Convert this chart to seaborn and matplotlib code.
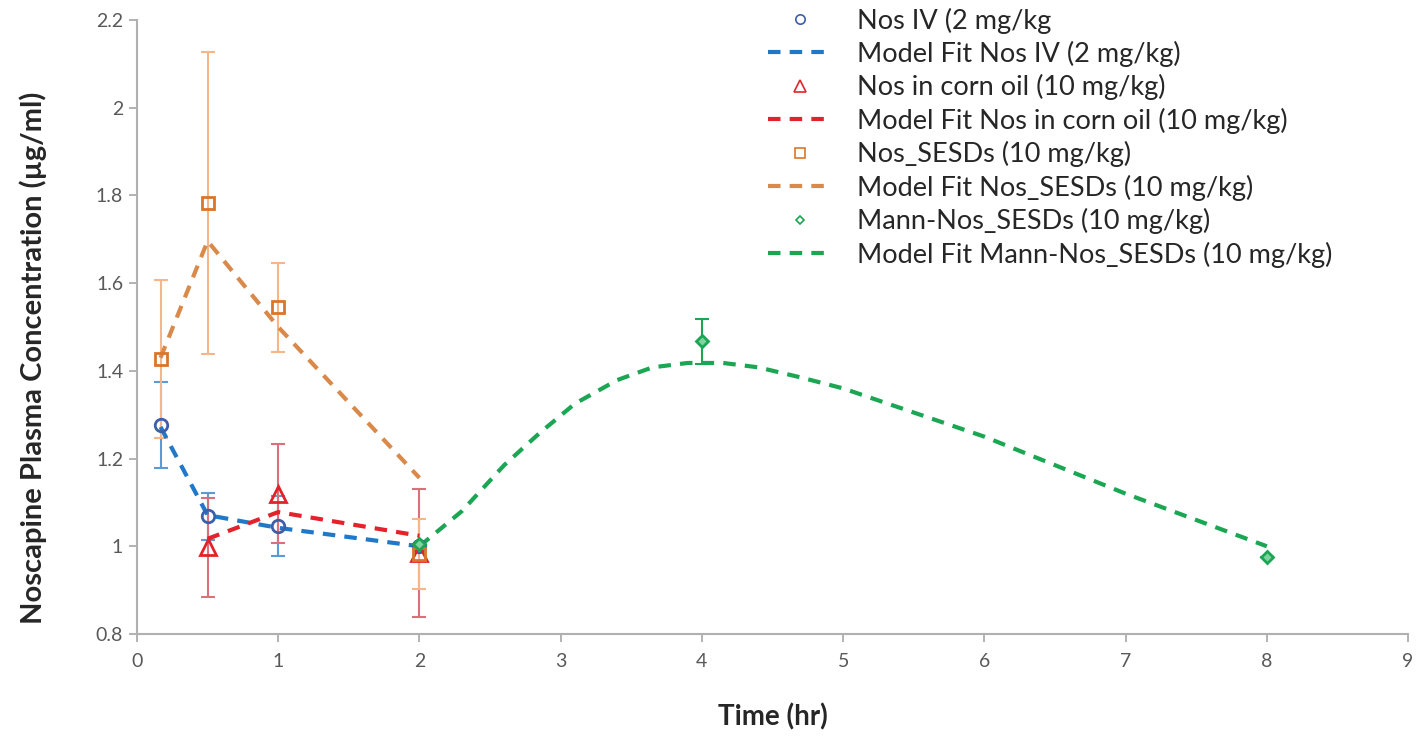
import seaborn as sns
import matplotlib
matplotlib.use('Agg')
import matplotlib.pyplot as plt
import numpy as np
import pandas as pd

sns.set_style('white')
plt.rcParams['font.family'] = ['Lato', 'DejaVu Sans']

# observed data (mean, SD)
t_iv = [0.167, 0.5, 1, 2]
c_iv = [1.277, 1.068, 1.046, 1.0]
sd_iv = [0.098, 0.053, 0.068, 0.0]

t_oil = [0.5, 1, 2]
c_oil = [0.998, 1.12, 0.985]
sd_oil = [0.113, 0.113, 0.146]

t_sesd = [0.167, 0.5, 1, 2]
c_sesd = [1.427, 1.783, 1.545, 0.982]
sd_sesd = [0.181, 0.345, 0.101, 0.08]

t_mann = [2, 4, 8]
c_mann = [1.005, 1.467, 0.976]
sd_mann = [0.0, 0.052, 0.0]

# model fits
fit_iv_t = [0.167, 0.5, 1, 2]
fit_iv_c = [1.272, 1.071, 1.042, 1.0]
fit_oil_t = [0.5, 1, 2]
fit_oil_c = [1.017, 1.078, 1.024]
fit_sesd_t = [0.167, 0.5, 1, 2]
fit_sesd_c = [1.43, 1.696, 1.5, 1.156]
fit_mann_t = [2, 2.3, 2.6, 2.85, 3.1, 3.4, 3.65, 3.9, 4.15, 4.4, 4.7, 5, 6, 7, 8]
fit_mann_c = [1.0, 1.08, 1.185, 1.258, 1.325, 1.379, 1.408, 1.418, 1.418,
              1.408, 1.385, 1.36, 1.25, 1.12, 1.0]

labels = ['Nos IV (2 mg/kg', 'Model Fit Nos IV (2 mg/kg)',
          'Nos in corn oil (10 mg/kg)', 'Model Fit Nos in corn oil (10 mg/kg)',
          'Nos_SESDs (10 mg/kg)', 'Model Fit Nos_SESDs (10 mg/kg)',
          'Mann-Nos_SESDs (10 mg/kg)', 'Model Fit Mann-Nos_SESDs (10 mg/kg)']

fig = plt.figure(figsize=(14.24, 7.36), dpi=100)
ax = fig.add_axes([0.0962, 0.1386, 0.8926, 0.8342])

series = [
    (t_iv, c_iv, sd_iv, fit_iv_t, fit_iv_c, 'o', '#3d5fa8', '#1f78c8', '#5b9bd5', 9),
    (t_oil, c_oil, sd_oil, fit_oil_t, fit_oil_c, '^', '#e3232c', '#e3232c', '#d9707a', 11),
    (t_sesd, c_sesd, sd_sesd, fit_sesd_t, fit_sesd_c, 's', '#d9762b', '#d98a4a', '#f5b68a', 9),
    (t_mann, c_mann, sd_mann, fit_mann_t, fit_mann_c, 'D', '#1aa653', '#1aa653', '#1aa653', 6),
]

dash = (0, (3, 2.2))
handles = []
for t, c, sd, ft, fc, mk, mcol, lcol, ecol, ms in series:
    ax.errorbar(t, c, yerr=sd, fmt='none', ecolor=ecol, elinewidth=1.5,
                capsize=5, capthick=1.5, zorder=2)
    df_fit = pd.DataFrame({'t': ft, 'c': fc})
    sns.lineplot(data=df_fit, x='t', y='c', ax=ax, color=lcol, linewidth=3,
                 linestyle=dash, zorder=3, legend=False)
    mfc = '#7fd39f' if mk == 'D' else 'none'
    ax.plot(t, c, linestyle='none', marker=mk, markersize=ms,
            markerfacecolor=mfc, markeredgecolor=mcol, markeredgewidth=2,
            zorder=4)
    lh_m = plt.Line2D([], [], linestyle='none', marker=mk, markersize=ms * 0.75,
                      markerfacecolor='none', markeredgecolor=mcol, markeredgewidth=1.2)
    lh_l = plt.Line2D([], [], color=lcol, linewidth=3, linestyle=dash)
    handles += [lh_m, lh_l]

ax.set_xlim(0, 9)
ax.set_ylim(0.8, 2.2)
ax.set_xticks(range(0, 10))
ax.set_yticks(np.arange(0.8, 2.21, 0.2))
ax.set_yticklabels(['0.8', '1', '1.2', '1.4', '1.6', '1.8', '2', '2.2'])
ax.tick_params(axis='both', colors='#a6a6a6', labelcolor='#595959',
               labelsize=14, length=6, width=1.2, direction='out',
               bottom=True, left=True)
ax.tick_params(axis='x', pad=8)
ax.tick_params(axis='y', pad=4)
for s in ['top', 'right']:
    ax.spines[s].set_visible(False)
for s in ['left', 'bottom']:
    ax.spines[s].set_color('#b0b0b0')
    ax.spines[s].set_linewidth(1.5)

ax.set_xlabel('Time (hr)', fontsize=20, fontweight='bold', labelpad=24)
ax.set_ylabel('Noscapine Plasma Concentration (\u00b5g/ml)', fontsize=21,
              fontweight='bold')
ax.yaxis.set_label_coords(-0.071, 0.45)

ax.legend(handles, labels, loc='upper left', bbox_to_anchor=(0.522, 1.023),
          bbox_transform=fig.transFigure, frameon=False, fontsize=19.5,
          handlelength=2.4, handletextpad=0.9, labelspacing=0.27)

fig.savefig('out.png', dpi=100)
